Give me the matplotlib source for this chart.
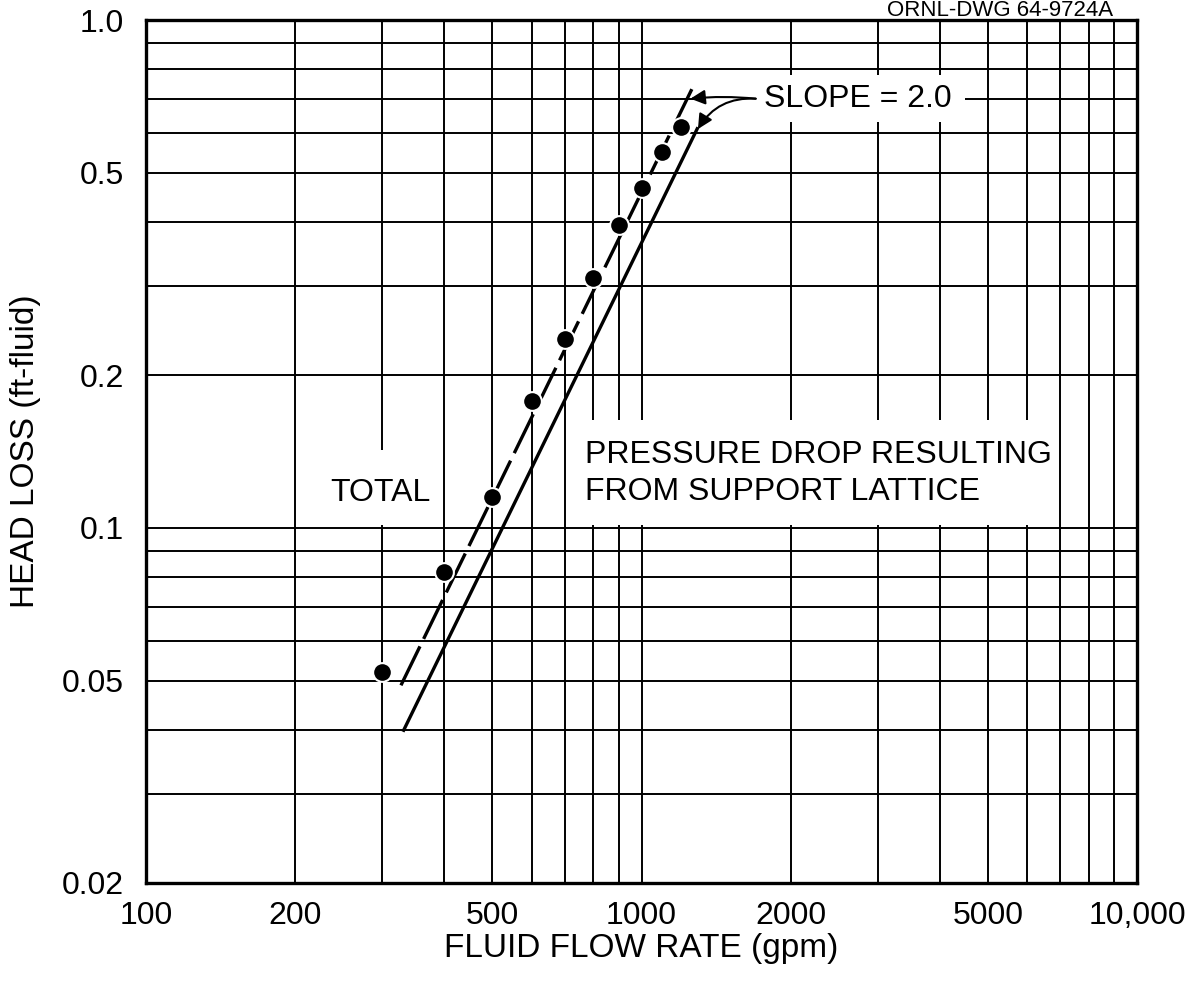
import matplotlib
matplotlib.use('Agg')
import matplotlib.pyplot as plt
from matplotlib.patches import Rectangle

plt.rcParams['font.family'] = ['Liberation Sans', 'DejaVu Sans']

# measured points (TOTAL)
flow_gpm = [300, 400, 500, 600, 700, 800, 900, 1000, 1100, 1200]
head_loss_total = [0.052, 0.082, 0.115, 0.178, 0.235, 0.31, 0.395, 0.467, 0.55, 0.615]

# slope = 2 lines
total_fit_gpm = [327, 1280]
total_fit_loss = [0.049, 0.75]
lattice_gpm = [330, 1300]
lattice_loss = [0.0397, 0.615]

x_ticks = [100, 200, 500, 1000, 2000, 5000, 10000]
x_tick_labels = ['100', '200', '500', '1000', '2000', '5000', '10,000']
y_ticks = [0.02, 0.05, 0.1, 0.2, 0.5, 1.0]
y_tick_labels = ['0.02', '0.05', '0.1', '0.2', '0.5', '1.0']


def main():
    fig = plt.figure(figsize=(11.92, 9.86), dpi=100)
    ax = fig.add_axes([146 / 1192, 1 - 883 / 986, 991 / 1192, 863 / 986])
    ax.set_xscale('log')
    ax.set_yscale('log')
    ax.set_xlim(100, 10000)
    ax.set_ylim(0.02, 1.0)

    # grid at 1..9 x 10^k on both axes
    xgrid = [m * 10 ** k for k in (2, 3) for m in range(1, 10)]
    ygrid = [m * 10 ** k for k in (-2, -1) for m in range(1, 10)]
    ygrid = [v for v in ygrid if v >= 0.02]
    ax.vlines(xgrid, 0.02, 1.0, colors='black', lw=1.4, zorder=1)
    ax.hlines(ygrid, 100, 10000, colors='black', lw=1.4, zorder=1)

    # blank areas behind the lettering (grid is broken there)
    for x0, x1, y0, y1 in [(760, 6500, 0.1015, 0.163),
                           (250, 370, 0.1015, 0.1425),
                           (1350, 4500, 0.63, 0.78)]:
        ax.add_patch(Rectangle((x0, y0), x1 - x0, y1 - y0, facecolor='white',
                               edgecolor='none', zorder=2))

    ax.plot(lattice_gpm, lattice_loss, color='black', lw=2.4,
            solid_capstyle='butt', zorder=3)
    ax.plot(total_fit_gpm, total_fit_loss, color='black', lw=2.4,
            dashes=(13, 2.5), dash_capstyle='butt', zorder=3)
    ax.plot(flow_gpm, head_loss_total, 'o', color='black', ms=13.5,
            mec='white', mew=1.5, zorder=4)

    txt = dict(fontsize=23, color='black', zorder=5)
    ax.text(297, 0.117, 'TOTAL', ha='center', va='center', **txt)
    ax.text(770, 0.128, 'PRESSURE DROP RESULTING\nFROM SUPPORT LATTICE',
            ha='left', va='center', linespacing=1.3, **txt)
    ax.text(1770, 0.70, 'SLOPE = 2.0', ha='left', va='center', **txt)

    arrow = dict(arrowstyle='-|>', color='black', lw=1.5, mutation_scale=22,
                 shrinkA=0, shrinkB=0)
    ax.annotate('', xy=(1255, 0.70), xytext=(1700, 0.70),
                arrowprops=dict(connectionstyle='arc3,rad=0.05', **arrow), zorder=5)
    ax.annotate('', xy=(1300, 0.61), xytext=(1700, 0.70),
                arrowprops=dict(connectionstyle='arc3,rad=0.3', **arrow), zorder=5)

    ax.set_xticks(x_ticks)
    ax.set_xticklabels(x_tick_labels)
    ax.set_yticks(y_ticks)
    ax.set_yticklabels(y_tick_labels)
    ax.minorticks_off()
    ax.tick_params(length=0, labelsize=23)
    ax.tick_params(axis='x', pad=13)
    ax.tick_params(axis='y', pad=16)
    for s in ax.spines.values():
        s.set_linewidth(2.4)
        s.set_zorder(6)

    ax.set_xlabel('FLUID FLOW RATE (gpm)', fontsize=24)
    ax.set_ylabel('HEAD LOSS (ft-fluid)', fontsize=24)
    ax.xaxis.set_label_coords(0.5, -0.058)
    ax.yaxis.set_label_coords(-0.106, 0.5)

    fig.text(1000 / 1192, 1.0, 'ORNL-DWG 64-9724A', ha='center',
             va='top', fontsize=16)

    fig.savefig('out.png', dpi=100)


if __name__ == '__main__':
    main()
